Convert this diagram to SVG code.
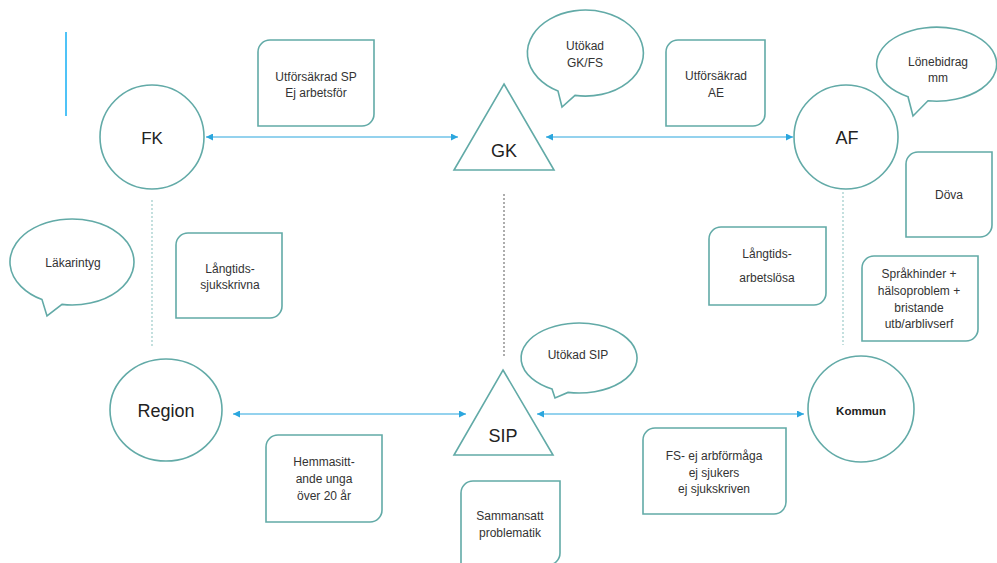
<svg xmlns="http://www.w3.org/2000/svg" width="997" height="563" viewBox="0 0 997 563">
<defs>
<style>
.sh{fill:#fff;stroke:#62aaa7;stroke-width:1.6}
.t{font-family:"Liberation Sans",Arial,sans-serif;font-size:12px;fill:#333;text-anchor:middle}
.big{font-family:"Liberation Sans",Arial,sans-serif;font-size:18px;fill:#222;text-anchor:middle}
.con{stroke:#2ba6de;stroke-width:1.2;fill:none;marker-start:url(#ah);marker-end:url(#ah)}
.dotT{stroke:#9ccbc8;stroke-width:1.2;stroke-dasharray:2 2;fill:none}
.dotG{stroke:#777;stroke-width:1.2;stroke-dasharray:2 2;fill:none}
</style>
<marker id="ah" viewBox="0 0 8 8" refX="8" refY="4" markerWidth="7" markerHeight="7" markerUnits="userSpaceOnUse" orient="auto-start-reverse">
<path d="M0,0 L8,4 L0,8 Z" fill="#2ba6de"/>
</marker>
</defs>
<rect width="997" height="563" fill="#fff"/>
<line x1="66" y1="32" x2="66" y2="116" stroke="#4fc3f7" stroke-width="2"/>

<g id="connectors">
<line class="con" x1="206" y1="137" x2="458" y2="137"/>
<line class="con" x1="546" y1="137" x2="793" y2="137"/>
<line class="con" x1="233" y1="414" x2="466" y2="414"/>
<line class="con" x1="537" y1="414" x2="804" y2="414"/>
<line class="dotT" x1="152" y1="200" x2="152" y2="348"/>
<line class="dotG" x1="504" y1="194" x2="504" y2="357"/>
<line class="dotT" x1="843" y1="192" x2="843" y2="345"/>
</g>

<g id="FK"><circle class="sh" cx="152" cy="137" r="52"/><text class="big" x="152" y="144" style="font-size:17px">FK</text></g>
<g id="GK"><path class="sh" d="M504,84 L554,170 L454,170 Z"/><text class="big" x="504" y="157">GK</text></g>
<g id="AF"><circle class="sh" cx="846" cy="137" r="52"/><text class="big" x="847" y="144">AF</text></g>
<g id="Region"><ellipse class="sh" cx="166" cy="410" rx="56" ry="51"/><text class="big" x="166" y="417">Region</text></g>
<g id="SIP"><path class="sh" d="M503,370 L553,455 L454,455 Z"/><text class="big" x="503" y="442">SIP</text></g>
<g id="Kommun"><circle class="sh" cx="861" cy="409" r="53"/><text class="t" x="861" y="415" style="font-weight:bold;font-size:11.5px;fill:#222">Kommun</text></g>

<g id="box-utforsakrad-sp"><path class="sh" d="M270,40 H374 V114 A12,12 0 0 1 362,126 H258 V52 A12,12 0 0 1 270,40 Z"/><text class="t" x="316" y="81">Utförsäkrad SP</text><text class="t" x="316" y="97">Ej arbetsför</text></g>
<g id="bubble-utokad-gkfs"><path class="sh" d="M575,95.4 A58,43 0 1 0 558,91 L562,107 Z"/><text class="t" x="585" y="50">Utökad</text><text class="t" x="585" y="67">GK/FS</text></g>
<g id="box-utforsakrad-ae"><path class="sh" d="M678,40 H765 V114 A12,12 0 0 1 753,126 H666 V52 A12,12 0 0 1 678,40 Z"/><text class="t" x="716" y="80">Utförsäkrad</text><text class="t" x="716" y="97">AE</text></g>
<g id="bubble-lonebidrag"><path class="sh" d="M928,100.8 A60,37 0 1 0 908,96.7 L913,116 Z"/><text class="t" x="938" y="66">Lönebidrag</text><text class="t" x="938" y="82">mm</text></g>
<g id="box-dova"><path class="sh" d="M918,152 H992 V225 A12,12 0 0 1 980,237 H906 V164 A12,12 0 0 1 918,152 Z"/><text class="t" x="949" y="199">Döva</text></g>
<g id="box-langtids-arbetslosa"><path class="sh" d="M721,227 H826 V293 A12,12 0 0 1 814,305 H709 V239 A12,12 0 0 1 721,227 Z"/><text class="t" x="767" y="258">Långtids-</text><text class="t" x="767" y="282">arbetslösa</text></g>
<g id="box-sprakhinder"><path class="sh" d="M874,256 H978 V329 A12,12 0 0 1 966,341 H862 V268 A12,12 0 0 1 874,256 Z"/><text class="t" x="919" y="278">Språkhinder +</text><text class="t" x="919" y="295">hälsoproblem +</text><text class="t" x="919" y="312">bristande</text><text class="t" x="919" y="328">utb/arblivserf</text></g>
<g id="bubble-lakarintyg"><path class="sh" d="M62,304.4 A62,43 0 1 0 42,299.6 L47,316 Z"/><text class="t" x="73" y="267">Läkarintyg</text></g>
<g id="box-langtids-sjukskrivna"><path class="sh" d="M188,233 H282 V306 A12,12 0 0 1 270,318 H176 V245 A12,12 0 0 1 188,233 Z"/><text class="t" x="230" y="273">Långtids-</text><text class="t" x="230" y="289">sjukskrivna</text></g>
<g id="box-hemmasittande"><path class="sh" d="M278,435 H382 V510 A12,12 0 0 1 370,522 H266 V447 A12,12 0 0 1 278,435 Z"/><text class="t" x="324" y="466">Hemmasitt-</text><text class="t" x="324" y="483">ande unga</text><text class="t" x="324" y="500">över 20 år</text></g>
<g id="bubble-utokad-sip"><path class="sh" d="M568,392.4 A58,35 0 1 0 552,389 L555,398 Z"/><text class="t" x="578" y="359">Utökad SIP</text></g>
<g id="box-sammansatt"><path class="sh" d="M473,481 H560 V553 A12,12 0 0 1 548,565 H461 V493 A12,12 0 0 1 473,481 Z"/><text class="t" x="510" y="520">Sammansatt</text><text class="t" x="510" y="537">problematik</text></g>
<g id="box-fs"><path class="sh" d="M655,428 H786 V502 A12,12 0 0 1 774,514 H643 V440 A12,12 0 0 1 655,428 Z"/><text class="t" x="714" y="460">FS- ej arbförmåga</text><text class="t" x="714" y="477">ej sjukers</text><text class="t" x="714" y="493">ej sjukskriven</text></g>
</svg>
